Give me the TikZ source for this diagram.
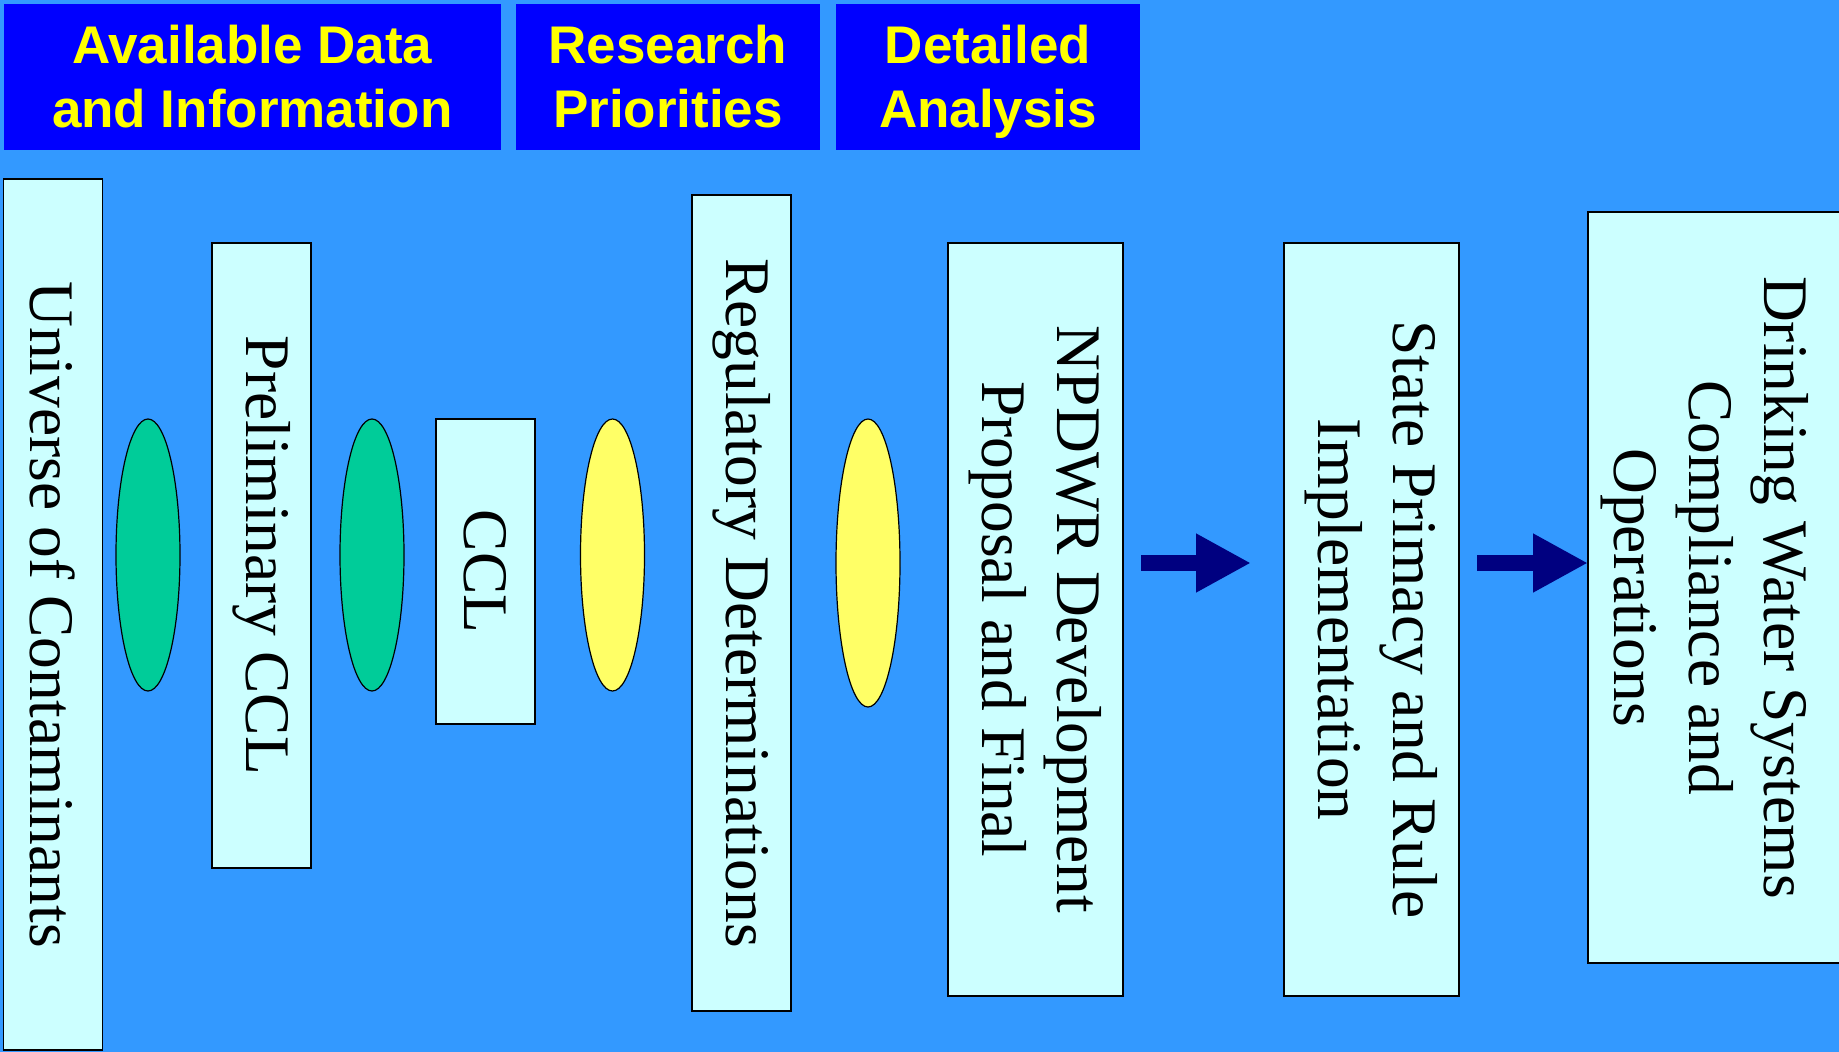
\documentclass[tikz,border=0pt]{standalone}
\usepackage{fontspec}
\setmainfont{Liberation Serif}
\newfontfamily\hdfont{Liberation Sans}
\usetikzlibrary{arrows.meta,shapes.geometric}
\definecolor{bgblue}{HTML}{3399FF}
\definecolor{hdblue}{HTML}{0000FF}
\definecolor{hdyellow}{HTML}{FFFF00}
\definecolor{boxfill}{HTML}{CCFFFF}
\definecolor{ovgreen}{HTML}{00CC99}
\definecolor{ovyellow}{HTML}{FFFF66}
\definecolor{arrnavy}{HTML}{000080}
\tikzset{
  header/.style={fill=hdblue, inner sep=0pt, outer sep=0pt},
  headertext/.style={text=hdyellow, inner sep=0pt, align=center,
    font=\hdfont\bfseries\fontsize{53}{64}\selectfont},
  stagebox/.style={draw=black, line width=1.5pt, fill=boxfill, inner sep=0pt, outer sep=0pt},
  stagetext/.style={rotate=-90, align=center, inner sep=0pt, font=\fontsize{63.5}{75}\selectfont},
  greenoval/.style={ellipse, draw=black, line width=1.2pt, fill=ovgreen, inner sep=0pt,
    minimum width=64pt, minimum height=272pt},
  yellowoval/.style={ellipse, draw=black, line width=1.2pt, fill=ovyellow, inner sep=0pt,
    minimum width=64pt, minimum height=272pt},
  bigarrow/.style={draw=arrnavy, line width=16pt, -{Triangle[length=55pt,width=55pt,fill=arrnavy]}}
}
\begin{document}
\begin{tikzpicture}[x=1pt,y=-1pt]
\useasboundingbox (0,0) rectangle (1839,1052);
\fill[bgblue] (0,0) rectangle (1839,1052);
\clip (0,0) rectangle (1839,1052);

% headers
\node[header, minimum width=497.5pt, minimum height=146.5pt] (h1) at (252.25,76.75) {};
\node[headertext] (h1t) at (h1.center) {Available Data\\and Information};
\node[header, minimum width=304pt, minimum height=146.5pt] (h2) at (668,76.75) {};
\node[headertext] (h2t) at (h2.center) {Research\\Priorities};
\node[header, minimum width=304pt, minimum height=146.5pt] (h3) at (988,76.75) {};
\node[headertext] (h3t) at ([yshift=-5pt]h3.center) {Detailed\\Analysis};

% stage boxes
\node[stagebox, minimum width=99pt, minimum height=871pt] (univ) at (53,614.5) {};
\node[stagetext] (univt) at (univ.center) {Universe of Contaminants};

\node[stagebox, minimum width=99pt, minimum height=625pt] (prelim) at (261.5,555.5) {};
\node[stagetext] (prelimt) at (prelim.center) {Preliminary CCL};

\node[stagebox, minimum width=99pt, minimum height=305pt] (ccl) at (485.5,571.5) {};
\node[stagetext] (cclt) at (ccl.center) {CCL};

\node[stagebox, minimum width=99pt, minimum height=816pt] (reg) at (741.5,603) {};
\node[stagetext] (regt) at (reg.center) {Regulatory Determinations};

\node[stagebox, minimum width=175pt, minimum height=753pt] (npdwr) at (1035.5,619.5) {};
\node[stagetext] (npdwrt) at (npdwr.center) {NPDWR Development\\Proposal and Final};

\node[stagebox, minimum width=175pt, minimum height=753pt] (state) at (1371.5,619.5) {};
\node[stagetext] (statet) at (state.center) {State Primacy and Rule\\Implementation};

\node[stagebox, minimum width=262pt, minimum height=751pt] (drink) at (1719,587.5) {};
\node[stagetext] (drinkt) at (1705,587.5) {Drinking Water Systems\\Compliance and\\Operations};

% ovals
\node[greenoval] (o1) at (148,555) {};
\node[greenoval] (o2) at (372,555) {};
\node[yellowoval] (o3) at (612.5,555) {};
\node[yellowoval, minimum height=288pt] (o4) at (868,563) {};

% arrows
\coordinate (ay) at (0,563);
\draw[bigarrow] ([xshift=18pt]npdwr.east |- ay) -- ([xshift=-33pt]state.west |- ay);
\draw[bigarrow] ([xshift=18pt]state.east |- ay) -- (drink.west |- ay);
\end{tikzpicture}
\end{document}
